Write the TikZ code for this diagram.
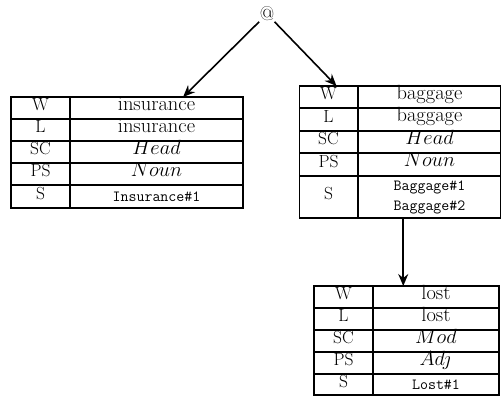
\RequirePackage{fix-cm}
\documentclass[tikz,border=0pt]{standalone}
\usetikzlibrary{arrows.meta,calc}
\begin{document}
\begin{tikzpicture}[x=1pt,y=-1pt,
  rule/.style={line width=1.8pt},
  tbl/.style={draw=none,inner sep=0pt,outer sep=0pt,rectangle},
  lab/.style={font=\fontsize{17.5}{21}\selectfont, inner sep=0pt, text height=0.7em, text depth=0.12em},
  val/.style={font=\fontsize{20.5}{24}\selectfont, inner sep=0pt, text height=0.7em, text depth=0.22em},
  code/.style={font=\fontsize{15.5}{20}\selectfont\ttfamily, inner sep=0pt, align=center},
  arr/.style={line width=1.6pt,-{Stealth[length=12pt,width=10pt,inset=4pt]}}]
\useasboundingbox (0,0) rectangle (502,396);

% root application node
\node[font=\fontsize{20}{22}\selectfont, inner sep=0.5pt] (at) at (267,14) {@};

% ---- table: insurance ----
\node[tbl, minimum width=232pt, minimum height=111pt] (ins) at (127,152.5) {};
\draw[rule] (ins.north west) rectangle (ins.south east);
\foreach \y in {119,141,163,185} \draw[rule] (ins.west |- 0,\y) -- (ins.east |- 0,\y);
\draw[rule] (ins.north -| 70,0) -- (ins.south -| 70,0);
\node[lab] (insW)  at (40.5,108) {W};
\node[lab] (insL)  at (40.5,130) {L};
\node[lab] (insSC) at (40.5,152) {SC};
\node[lab] (insPS) at (40.5,174) {PS};
\node[lab] (insS)  at (40.5,196.5) {S};
\node[val] (insWv)  at (156.5,108) {insurance};
\node[val] (insLv)  at (156.5,130) {insurance};
\node[val] (insSCv) at (156.5,152) {$Head$};
\node[val] (insPSv) at (156.5,174) {$Noun$};
\node[code] (insSv) at (156.5,196.5) {Insurance\#1};

% ---- table: baggage ----
\node[tbl, minimum width=201pt, minimum height=132pt] (bag) at (400,152) {};
\draw[rule] (bag.north west) rectangle (bag.south east);
\foreach \y in {108,131,153,176} \draw[rule] (bag.west |- 0,\y) -- (bag.east |- 0,\y);
\draw[rule] (bag.north -| 358,0) -- (bag.south -| 358,0);
\node[lab] (bagW)  at (328.5,97) {W};
\node[lab] (bagL)  at (328.5,119.5) {L};
\node[lab] (bagSC) at (328.5,142) {SC};
\node[lab] (bagPS) at (328.5,164.5) {PS};
\node[lab] (bagS)  at (328.5,197) {S};
\node[val] (bagWv)  at (429.5,97) {baggage};
\node[val] (bagLv)  at (429.5,119.5) {baggage};
\node[val] (bagSCv) at (429.5,142) {$Head$};
\node[val] (bagPSv) at (429.5,164.5) {$Noun$};
\node[code] (bagSv) at (429.5,197) {Baggage\#1\\Baggage\#2};

% ---- table: lost ----
\node[tbl, minimum width=185pt, minimum height=109pt] (lost) at (406.5,340.5) {};
\draw[rule] (lost.north west) rectangle (lost.south east);
\foreach \y in {308,330,352,374} \draw[rule] (lost.west |- 0,\y) -- (lost.east |- 0,\y);
\draw[rule] (lost.north -| 373,0) -- (lost.south -| 373,0);
\node[lab] (lostW)  at (343.5,297) {W};
\node[lab] (lostL)  at (343.5,319) {L};
\node[lab] (lostSC) at (343.5,341) {SC};
\node[lab] (lostPS) at (343.5,363) {PS};
\node[lab] (lostS)  at (343.5,385) {S};
\node[val] (lostWv)  at (436,297) {lost};
\node[val] (lostLv)  at (436,319) {lost};
\node[val] (lostSCv) at (436,341) {$Mod$};
\node[val] (lostPSv) at (436,363) {$Adj$};
\node[code] (lostSv) at (436,385) {Lost\#1};

% ---- connectors ----
\draw[arr] (at) -- (ins);
\draw[arr] (at) -- (bag);
\draw[arr] ($(bag.south)!0.5!(bag.south -| lost.north)$) -- ($(lost.north)!0.5!(lost.north -| bag.south)$);
\end{tikzpicture}
\end{document}
